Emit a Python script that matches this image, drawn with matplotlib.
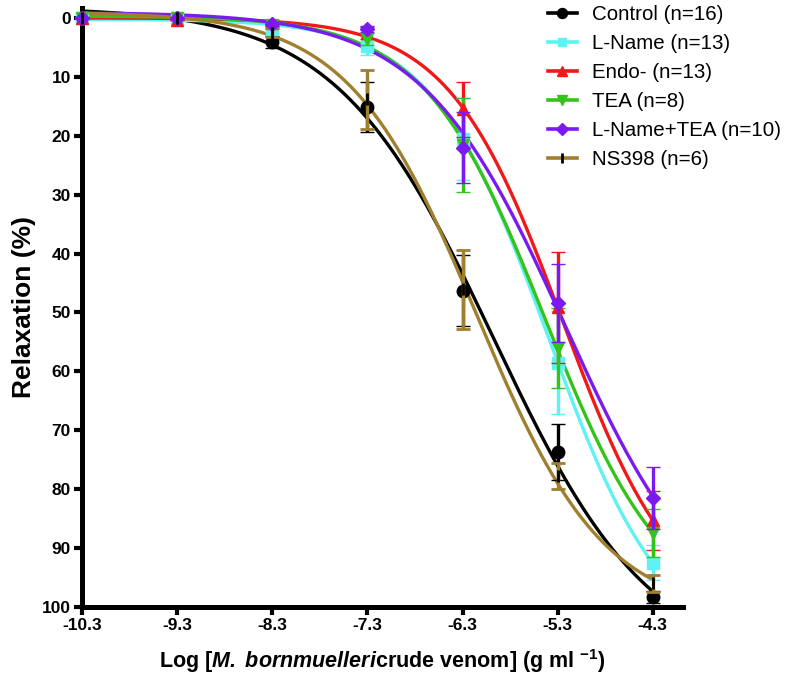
import numpy as np
import matplotlib
matplotlib.use("Agg")
import matplotlib.pyplot as plt
from matplotlib.lines import Line2D

plt.rcParams['font.family'] = ['Liberation Sans', 'DejaVu Sans']
plt.rcParams['mathtext.fontset'] = 'custom'
plt.rcParams['mathtext.rm'] = 'Liberation Sans'
plt.rcParams['mathtext.it'] = 'Liberation Sans:italic'
plt.rcParams['mathtext.bf'] = 'Liberation Sans:bold'
plt.rcParams['mathtext.bfit'] = 'Liberation Sans:italic:bold'

# ---- data ----
log_dose = [-10.3, -9.3, -8.3, -7.3, -6.3, -5.3, -4.3]
x_ticks = [-10.3, -9.3, -8.3, -7.3, -6.3, -5.3, -4.3]
x_ticklabels = ["-10.3", "-9.3", "-8.3", "-7.3", "-6.3", "-5.3", "-4.3"]
y_ticks = [0, 10, 20, 30, 40, 50, 60, 70, 80, 90, 100]

series_names = ["Control (n=16)", "L-Name (n=13)", "Endo- (n=13)", "TEA (n=8)",
                "L-Name+TEA (n=10)", "NS398 (n=6)"]
control = [0.0, 0.0, 4.1, 15.1, 46.3, 73.7, 98.3]
control_err = [0.0, 0.0, 1.0, 4.3, 6.0, 4.7, 1.0]
lname = [0.0, 0.0, 1.8, 4.8, 20.5, 58.5, 92.5]
lname_err = [0.0, 0.0, 0.5, 1.5, 7.0, 8.7, 3.0]
endo = [0.0, 0.3, 0.8, 2.5, 15.5, 49.1, 85.3]
endo_err = [0.0, 0.0, 0.5, 1.0, 4.7, 9.4, 5.0]
tea = [0.0, 0.0, 1.2, 3.5, 21.5, 56.0, 87.5]
tea_err = [0.0, 0.0, 0.5, 1.0, 8.0, 6.8, 4.1]
lname_tea = [0.0, 0.0, 1.0, 1.8, 22.0, 48.4, 81.5]
lname_tea_err = [0.0, 0.0, 0.3, 0.5, 6.0, 6.6, 5.3]
ns398 = [0.0, 0.0, 2.5, 13.8, 46.1, 77.7, 96.0]
ns398_err = [0.0, 0.0, 0.8, 5.0, 6.7, 2.2, 1.5]

colors = ["#000000", "#5EF2F2", "#F01818", "#35C21A", "#7A1AF0", "#A07F2E"]
markers = ["o", "s", "^", "v", "D", "|"]
msizes = [9, 8, 8.5, 8.5, 7.5, 9]


def fit4pl(x, y):
    """Fit y = B + (T-B)/(1+10^((c-x)h)) by grid search over (c, h),
    with B and T solved by linear least squares."""
    x = np.asarray(x, float)
    y = np.asarray(y, float)
    cs = np.arange(-8.5, -3.5, 0.005)
    hs = np.arange(0.2, 2.0, 0.005)
    C, H = np.meshgrid(cs, hs, indexing='ij')
    s = 1.0 / (1.0 + 10 ** ((C[..., None] - x) * H[..., None]))
    a = 1 - s
    b = s
    Saa = (a * a).sum(-1); Sab = (a * b).sum(-1); Sbb = (b * b).sum(-1)
    Say = (a * y).sum(-1); Sby = (b * y).sum(-1)
    det = Saa * Sbb - Sab ** 2
    B = (Sbb * Say - Sab * Sby) / det
    T = (Saa * Sby - Sab * Say) / det
    res = ((B[..., None] * a + T[..., None] * b - y) ** 2).sum(-1)
    i = np.unravel_index(np.nanargmin(res), res.shape)
    return B[i], T[i], C[i], H[i]


fig = plt.figure(figsize=(8, 6.96), dpi=100)
ax = fig.add_axes([0.1025, 0.128, 0.7515, 0.8605])

data = [control, lname, endo, tea, lname_tea, ns398]
errs = [control_err, lname_err, endo_err, tea_err, lname_tea_err, ns398_err]
draw_order = [5, 0, 1, 2, 3, 4]
xs = np.linspace(log_dose[0], log_dose[-1], 400)
for k in draw_order:
    B, T, c, h = fit4pl(log_dose, data[k])
    ys = B + (T - B) / (1 + 10 ** ((c - xs) * h))
    ax.plot(xs, ys, color=colors[k], lw=2.4, zorder=2 + k * 0.1, solid_capstyle='butt')
    mec = 'black' if k == 5 else colors[k]
    ax.errorbar(log_dose, data[k], yerr=errs[k], fmt=markers[k], color=colors[k],
                mec=mec, mfc=colors[k], ms=msizes[k], mew=2 if k == 5 else 1,
                ecolor=colors[k], elinewidth=2.4, capsize=5, capthick=2.4,
                zorder=3 + k * 0.1, clip_on=False)

ax.set_xlim(-10.3, -3.98)
ax.set_ylim(100, -1.7)
ax.spines['top'].set_visible(False)
ax.spines['right'].set_visible(False)
for sp in ['left', 'bottom']:
    ax.spines[sp].set_linewidth(3.6)
ax.set_xticks(x_ticks)
ax.set_xticklabels(x_ticklabels)
ax.set_yticks(y_ticks)
ax.set_yticklabels([str(v) for v in y_ticks])
ax.tick_params(axis='both', direction='out', length=6, width=3, labelsize=12.5, pad=2)
for lab in ax.get_xticklabels() + ax.get_yticklabels():
    lab.set_fontweight('bold')

ax.set_ylabel("Relaxation (%)", fontsize=19, fontweight='bold', labelpad=4)
ax.set_xlabel(r"Log [$\mathbfit{M.\ bornmuelleri}$crude venom] (g ml $^{\mathbf{-1}}$)",
              fontsize=15.5, fontweight='bold', labelpad=10)

handles = []
for k in range(6):
    mec = 'black' if k == 5 else colors[k]
    handles.append(Line2D([0], [0], color=colors[k], lw=2.6, marker=markers[k],
                          ms=msizes[k] * 0.8, mfc=colors[k], mec=mec,
                          mew=2 if k == 5 else 1))
fig.legend(handles, series_names, loc='upper left', bbox_to_anchor=(0.685, 0.993),
           frameon=False, fontsize=14.8, handlelength=1.4, labelspacing=0.49,
           handletextpad=0.75, borderpad=0, borderaxespad=0)

fig.savefig("out.png", dpi=100)
